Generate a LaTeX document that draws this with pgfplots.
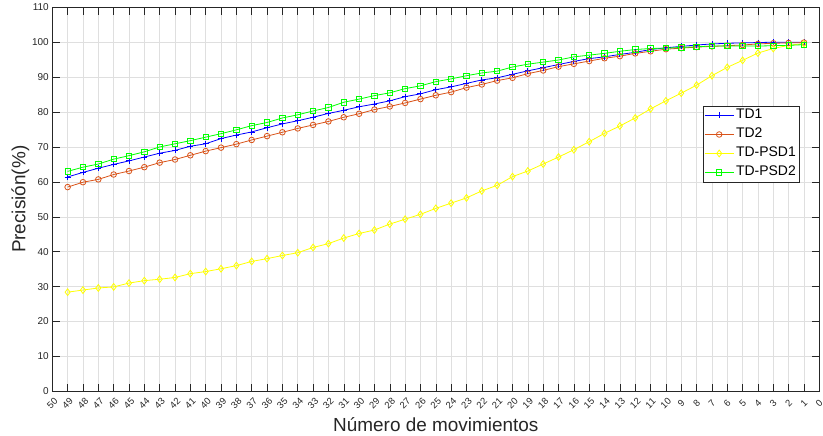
\documentclass[border=0pt]{standalone}
\usepackage{fontspec}
\setmainfont{Liberation Sans}
\usepackage{pgfplots}
\usepackage{pgfplotstable}
\pgfplotsset{compat=1.18}
\definecolor{axgray}{RGB}{38,38,38}
\definecolor{gridc}{RGB}{223,223,223}
\definecolor{cTDa}{RGB}{0,0,255}
\definecolor{cTDb}{RGB}{217,83,25}
\definecolor{cPSDa}{RGB}{255,255,0}
\definecolor{cPSDb}{RGB}{0,255,0}
\pgfplotstableread{
x  tda   tdb   psda  psdb
49 61.4 58.5 28.4 63.0
48 62.7 59.9 29.0 64.2
47 63.9 60.7 29.6 65.1
46 65.0 62.1 29.9 66.5
45 66.0 63.1 31.0 67.5
44 67.1 64.2 31.7 68.6
43 68.2 65.5 32.1 70.0
42 69.0 66.4 32.6 70.9
41 70.2 67.6 33.7 71.8
40 70.9 68.8 34.3 72.8
39 72.4 69.8 35.1 73.8
38 73.4 70.8 36.0 74.9
37 74.3 72.0 37.2 76.1
36 75.5 73.1 38.0 77.0
35 76.6 74.2 38.9 78.3
34 77.5 75.3 39.7 79.2
33 78.5 76.3 41.2 80.3
32 79.6 77.3 42.3 81.3
31 80.5 78.5 43.9 82.8
30 81.5 79.5 45.2 83.7
29 82.3 80.7 46.2 84.7
28 83.2 81.6 47.9 85.5
27 84.4 82.6 49.3 86.7
26 85.2 83.7 50.7 87.5
25 86.4 84.8 52.4 88.7
24 87.2 85.7 53.9 89.5
23 88.2 87.0 55.4 90.4
22 89.2 87.9 57.4 91.2
21 89.8 89.0 59.0 91.7
20 90.8 89.8 61.5 92.9
19 91.8 91.0 63.1 93.7
18 92.7 91.9 65.1 94.3
17 93.6 93.0 67.1 94.9
16 94.5 93.8 69.2 95.8
15 95.3 94.6 71.5 96.3
14 95.8 95.4 73.9 96.8
13 96.5 96.0 76.0 97.4
12 97.1 96.8 78.3 97.9
11 97.9 97.4 80.9 98.2
10 98.4 98.0 83.2 98.3
9  98.8 98.3 85.4 98.5
8  99.2 98.6 87.7 98.7
7  99.5 98.8 90.4 98.9
6  99.7 99.0 92.8 98.9
5  99.8 99.2 94.8 98.9
4  99.9 99.5 96.9 98.9
3  100  99.7 98.2 99.0
2  100  99.8 99.1 99.1
1  100  99.9 99.6 99.3
}\datatable
\begin{document}
\begin{tikzpicture}
\begin{axis}[
  scale only axis, width=767bp, height=384bp,
  xmin=0, xmax=50, x dir=reverse,
  ymin=0, ymax=110,
  xtick={0,...,50}, ytick={0,10,...,110},
  grid=major, major grid style={color=gridc, line width=0.5bp},
  axis line style={color=axgray, line width=0.6bp},
  tick style={color=axgray, line width=0.5bp},
  major tick length=7.7bp, tick align=inside,
  /pgf/number format/assume math mode=true,
  yticklabel style={font=\fontsize{10}{12}\selectfont, text=axgray},
  xticklabel style={font=\fontsize{9.5}{11}\selectfont, text=axgray, yshift=-12bp, anchor=center, rotate=45},
  xlabel={Número de movimientos},
  ylabel={Precisión(\%)},
  xlabel style={font=\fontsize{19}{22}\selectfont, text=axgray, at={(axis description cs:0.5,-0.088)}, anchor=center},
  ylabel style={font=\fontsize{19}{22}\selectfont, text=axgray, at={(axis description cs:-0.0417,0.5)}, anchor=center},
  legend cell align=left,
  legend image code/.code={\draw[mark repeat=2,mark phase=2,#1] plot coordinates {(0bp,0bp) (14.5bp,0bp) (29bp,0bp)};},
  legend style={at={(0.9735,0.7435)}, anchor=north east, draw=axgray, fill=white,
    inner sep=1bp, font=\fontsize{14}{16}\selectfont, text=black,
    nodes={inner sep=2bp, text height=10bp, text depth=3bp}, row sep=2bp},
]
\addplot[color=cTDa, line width=0.8bp, mark=+, mark size=3bp] table[x=x, y=tda] {\datatable};
\addlegendentry{TD1}
\addplot[color=cTDb, line width=0.8bp, mark=o, mark size=2.8bp] table[x=x, y=tdb] {\datatable};
\addlegendentry{TD2}
\addplot[color=cPSDa, line width=0.8bp, mark=diamond, mark size=3.4bp] table[x=x, y=psda] {\datatable};
\addlegendentry{TD-PSD1}
\addplot[color=cPSDb, line width=0.8bp, mark=square, mark size=2.7bp] table[x=x, y=psdb] {\datatable};
\addlegendentry{TD-PSD2}
\end{axis}
\pgfresetboundingbox
\useasboundingbox (-52.3bp,-43.8bp) rectangle (770.7bp,391.3bp);
\end{tikzpicture}
\end{document}
